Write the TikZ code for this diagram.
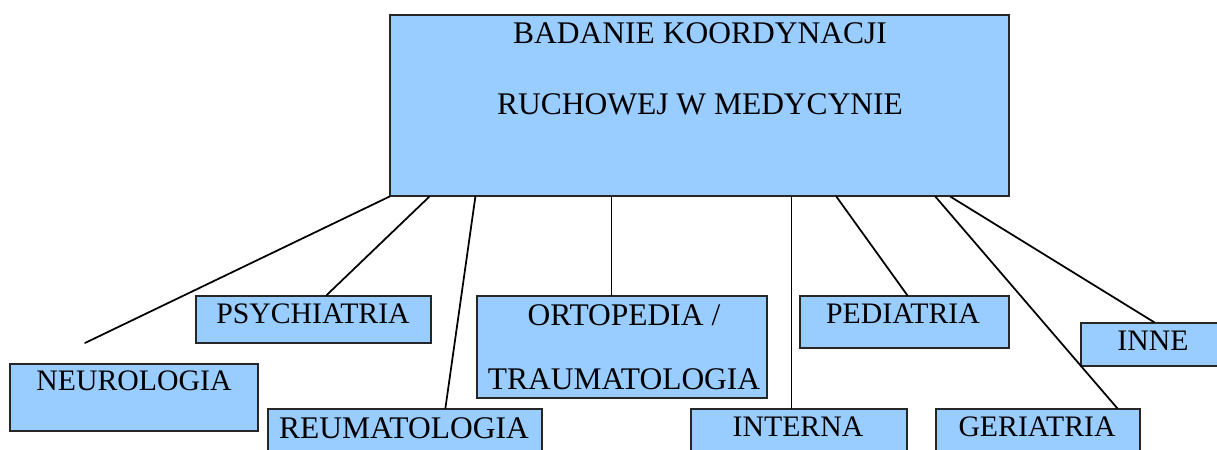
\documentclass[tikz,border=0pt]{standalone}
\usepackage{fontspec}
\setmainfont{Liberation Serif}
\usetikzlibrary{fit,calc}
\definecolor{boxblue}{HTML}{99CCFF}

\begin{document}
\begin{tikzpicture}[x=0.4pt,y=-0.4pt,line cap=round,
		box/.style={draw=black!85,fill=boxblue,line width=0.5pt,inner sep=0pt},
		txt/.style={anchor=base,inner sep=0pt,align=center,font=\fontsize{12.6}{15}\selectfont},
		small/.style={txt,font=\fontsize{11.9}{14}\selectfont},
		link/.style={line width=0.7pt}]
		\clip (0,0) rectangle (1217,450);
		%\draw[help lines,step=50] (0,0) grid (1217,450);
		\foreach \n/\a/\b in {main/{390,15}/{1009,196},neuro/{10,364}/{258,431},
			psych/{196,296}/{431,343},reuma/{268,409}/{542,460},orto/{477,296}/{767,398},
			interna/{691,409}/{907,460},pedia/{800,296}/{1009,348},
			geri/{936,409}/{1140,460},inne/{1081,323}/{1230,366}}
		{\node[box,fit={(\a) (\b)}] (\n) {};}
		% base anchor sits on the last line
		\node[txt] (tmain) at (700,115) {BADANIE KOORDYNACJI\\[13.5pt]RUCHOWEJ W MEDYCYNIE};
		\node[small] (tneuro) at (134,391) {NEUROLOGIA};
		\node[small] (tpsych) at (313,324) {PSYCHIATRIA};
		\node[txt] (treuma) at (404,439) {REUMATOLOGIA};
		\node[txt] (torto) at (624,390) {ORTOPEDIA /\\[10.6pt]TRAUMATOLOGIA};
		\node[small] (tinterna) at (798,437) {INTERNA};
		\node[small] (tpedia) at (903,324) {PEDIATRIA};
		\node[small] (tgeri) at (1037,437) {GERIATRIA};
		\node[small] (tinne) at (1153,351) {INNE};
		\coordinate (neuroend) at (85,343);
		\draw[link] (main.south west) -- (neuroend);
		\foreach \d/\n/\e in {40/psych/131,86/reuma/178,222/orto/135,402/interna/101,
			447/pedia/108,546/geri/182,561/inne/74}
		{\draw[link] ($(main.south west)+(\d,0)$) -- ($(\n.north west)+(\e,0)$);}
\end{tikzpicture}
\end{document}
